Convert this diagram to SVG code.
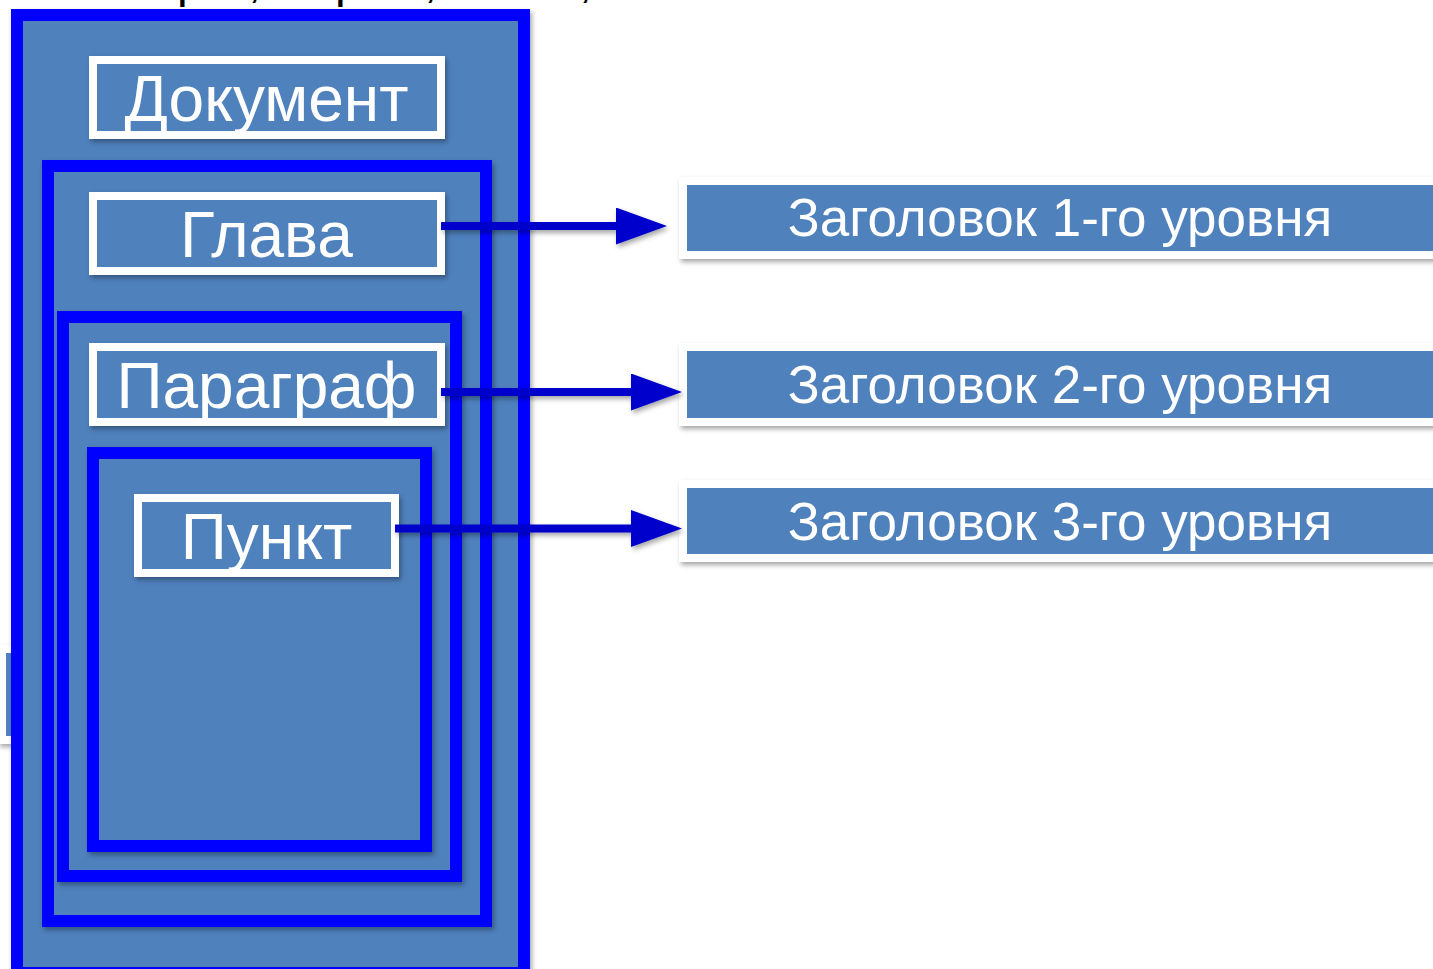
<svg xmlns="http://www.w3.org/2000/svg" width="1433" height="969" viewBox="0 0 1433 969">
<defs>
<filter id="sh" x="-10%" y="-10%" width="130%" height="130%">
<feDropShadow dx="2" dy="3" stdDeviation="2.5" flood-color="#000" flood-opacity="0.35"/>
</filter>
<marker id="ah" markerUnits="userSpaceOnUse" markerWidth="52" markerHeight="38" refX="5" refY="18.5" orient="auto">
<path d="M0,0 L51,18.5 L0,37 Z" fill="#0000CC"/>
</marker>
<style>
.frame{fill:#4F81BD;stroke:#0000FF;stroke-width:12;filter:url(#sh)}
.node{fill:#4F81BD;stroke:#FFFFFF;stroke-width:8;filter:url(#sh)}
.lbl{font-family:"Liberation Sans",Arial,sans-serif;font-size:64px;fill:#FFFFFF;text-anchor:middle}
.hdr{font-family:"Liberation Sans",Arial,sans-serif;font-size:53px;fill:#FFFFFF;text-anchor:middle}
.conn{stroke:#0000CC;stroke-width:8;fill:none;marker-end:url(#ah)}
</style>
</defs>
<rect width="1433" height="969" fill="#FFFFFF"/>
<text x="0" y="-3" font-family="Liberation Sans, Arial, sans-serif" font-size="48" fill="#000"><tspan x="177">р</tspan><tspan x="248">,</tspan><tspan x="335">р</tspan><tspan x="424">,</tspan><tspan x="579">,</tspan></text>
<g id="partial-node">
<rect class="node" x="2" y="649" width="100" height="91"/>
</g>
<g id="document-frame">
<rect class="frame" x="17" y="15" width="507" height="958"/>
</g>
<g id="chapter-frame">
<rect class="frame" x="48" y="166" width="438" height="755"/>
</g>
<g id="paragraph-frame">
<rect class="frame" x="63" y="317" width="393" height="559"/>
</g>
<g id="item-frame">
<rect class="frame" x="93" y="453" width="333" height="393"/>
</g>
<g id="node-document">
<rect class="node" x="93" y="60" width="348" height="75"/>
<text class="lbl" x="266.5" y="121">Документ</text>
</g>
<g id="node-chapter">
<rect class="node" x="93" y="196" width="348" height="75"/>
<text class="lbl" x="266.5" y="257">Глава</text>
</g>
<g id="node-paragraph">
<rect class="node" x="93" y="347" width="348" height="75"/>
<text class="lbl" x="266.5" y="408">Параграф</text>
</g>
<g id="node-item">
<rect class="node" x="138" y="498" width="257" height="75"/>
<text class="lbl" x="266.5" y="559">Пункт</text>
</g>
<g id="node-h1">
<rect class="node" x="683" y="181" width="754" height="74"/>
<text class="hdr" x="1060" y="236">Заголовок 1-го уровня</text>
</g>
<g id="node-h2">
<rect class="node" x="683" y="347" width="754" height="75"/>
<text class="hdr" x="1060" y="403">Заголовок 2-го уровня</text>
</g>
<g id="node-h3">
<rect class="node" x="683" y="484" width="754" height="74"/>
<text class="hdr" x="1060" y="540">Заголовок 3-го уровня</text>
</g>
<g id="connectors" filter="url(#sh)">
<line class="conn" x1="441" y1="226" x2="621" y2="226"/>
<line class="conn" x1="441" y1="392" x2="636" y2="392"/>
<line class="conn" x1="395" y1="528.5" x2="636" y2="528.5"/>
</g>
</svg>
